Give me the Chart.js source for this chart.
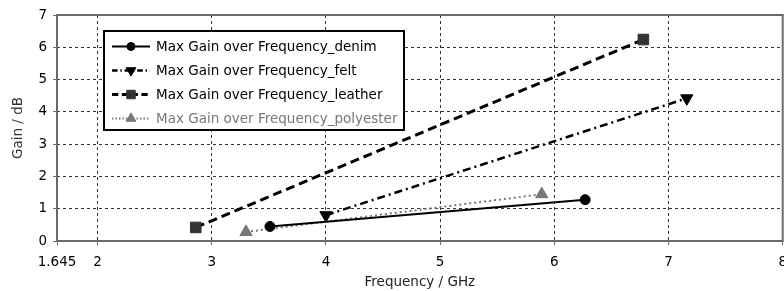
<!DOCTYPE html>
<html>
<head>
<meta charset="utf-8">
<script src="https://cdn.jsdelivr.net/npm/chart.js@4.4.1/dist/chart.umd.min.js"></script>
<style>
  html, body { margin: 0; padding: 0; background: #fff; overflow: hidden; }
  #wrap { width: 796px; height: 291px; }
</style>
</head>
<body>
<div id="wrap"><canvas id="chart" width="796" height="291"></canvas></div>
<script>
// values (frequency in GHz, gain in dB)
const denimFreq = [3.51, 6.27]
const denimGain = [0.45, 1.28]
const feltFreq = [4.0, 7.16]
const feltGain = [0.8, 4.42]
const leatherFreq = [2.86, 6.78]
const leatherGain = [0.42, 6.24]
const polyFreq = [3.3, 5.89]
const polyGain = [0.28, 1.45]

const xTicks = [1.645, 2, 3, 4, 5, 6, 7, 8]
const yTicks = [0, 1, 2, 3, 4, 5, 6, 7]

const seriesNames = [
  "Max Gain over Frequency_denim",
  "Max Gain over Frequency_felt",
  "Max Gain over Frequency_leather",
  "Max Gain over Frequency_polyester"
]

const FONT = "DejaVu Sans"

const toPoints = (xs, ys) => xs.map((x, i) => ({ x: x, y: ys[i] }))

const datasets = [
  {
    label: seriesNames[0], data: toPoints(denimFreq, denimGain),
    borderColor: "#000", backgroundColor: "#000", borderWidth: 2, borderDash: [],
    pointStyle: "circle", pointRadius: 5, pointRotation: 0, textColor: "#000"
  },
  {
    label: seriesNames[1], data: toPoints(feltFreq, feltGain),
    borderColor: "#000", backgroundColor: "#000", borderWidth: 2.5, borderDash: [8, 4, 2, 4],
    pointStyle: "triangle", pointRadius: 7, pointRotation: 180, textColor: "#000"
  },
  {
    label: seriesNames[2], data: toPoints(leatherFreq, leatherGain),
    borderColor: "#000", backgroundColor: "#333", borderWidth: 3, borderDash: [9, 5],
    pointStyle: "rect", pointRadius: 7.5, pointRotation: 0, textColor: "#000"
  },
  {
    label: seriesNames[3], data: toPoints(polyFreq, polyGain),
    borderColor: "#777", backgroundColor: "#777", borderWidth: 2, borderDash: [2, 3],
    pointStyle: "triangle", pointRadius: 7, pointRotation: 0, textColor: "#777"
  }
]
datasets.forEach(d => {
  d.showLine = true
  d.pointBorderColor = d.backgroundColor
  d.pointBackgroundColor = d.backgroundColor
  d.pointBorderWidth = 1
  d.pointHoverRadius = d.pointRadius
})

// gray frame around the plot area
const framePlugin = {
  id: "frame",
  beforeDatasetsDraw(chart) {
    const a = chart.chartArea, ctx = chart.ctx
    ctx.save()
    ctx.strokeStyle = "#6a6a6a"
    ctx.lineWidth = 2
    ctx.setLineDash([])
    ctx.strokeRect(a.left, a.top, a.right - a.left, a.bottom - a.top)
    ctx.restore()
  }
}

// boxed legend inside the plot, like the original
const boxLegend = {
  id: "boxLegend",
  afterDraw(chart) {
    const ctx = chart.ctx
    const bx = 104, by = 31, bw = 300, bh = 99
    ctx.save()
    ctx.fillStyle = "#fff"
    ctx.fillRect(bx, by, bw, bh)
    ctx.strokeStyle = "#000"
    ctx.lineWidth = 2
    ctx.setLineDash([])
    ctx.strokeRect(bx, by, bw, bh)
    ctx.font = "13.5px '" + FONT + "'"
    ctx.textBaseline = "middle"
    chart.data.datasets.forEach((d, i) => {
      const y = 46.5 + i * 24
      ctx.strokeStyle = d.borderColor
      ctx.lineWidth = d.borderWidth
      ctx.setLineDash(d.borderDash.map(v => v * 0.7))
      ctx.beginPath()
      ctx.moveTo(112, y)
      ctx.lineTo(150, y)
      ctx.stroke()
      ctx.setLineDash([])
      ctx.fillStyle = d.backgroundColor
      ctx.strokeStyle = d.backgroundColor
      ctx.lineWidth = 1
      Chart.helpers.drawPoint(ctx, {
        pointStyle: d.pointStyle, radius: d.pointRadius * 0.8,
        rotation: d.pointRotation, borderWidth: 1
      }, 131, y)
      ctx.fillStyle = d.textColor
      ctx.fillText(d.label, 156, y + 1)
    })
    ctx.restore()
  }
}

const gridOpts = {
  color: "#333", lineWidth: 1, borderDash: [3, 3], tickLength: 4,
  tickColor: "#6a6a6a", tickBorderDash: []
}
const borderOpts = { display: true, color: "rgba(0,0,0,0)", width: 0, dash: [3, 3] }

new Chart(document.getElementById("chart"), {
  type: "scatter",
  data: { datasets: datasets },
  options: {
    responsive: false,
    animation: false,
    layout: { padding: { top: 15, left: 0, bottom: 0, right: 0 } },
    plugins: { legend: { display: false }, tooltip: { enabled: false } },
    elements: { line: { tension: 0, fill: false } },
    scales: {
      x: {
        type: "linear", min: 1.645, max: 8,
        afterBuildTicks: s => { s.ticks = xTicks.map(v => ({ value: v })) },
        afterFit: s => { s.height = 50 },
        ticks: {
          color: "#000", font: { family: FONT, size: 13.5 }, padding: 9, maxRotation: 0,
          callback: v => String(v)
        },
        grid: gridOpts,
        border: borderOpts,
        title: { display: true, text: "Frequency / GHz", color: "#222", font: { family: FONT, size: 13.5 }, padding: { top: 0, bottom: 0 } }
      },
      y: {
        type: "linear", min: 0, max: 7,
        afterBuildTicks: s => { s.ticks = yTicks.map(v => ({ value: v })) },
        afterFit: s => { s.width = 57 },
        ticks: { color: "#000", font: { family: FONT, size: 13.5 }, padding: 6 },
        grid: gridOpts,
        border: borderOpts,
        title: { display: true, text: "Gain / dB", color: "#333", font: { family: FONT, size: 13.5 }, padding: { top: 10, bottom: 0 } }
      }
    }
  },
  plugins: [framePlugin, boxLegend]
})
</script>
</body>
</html>
